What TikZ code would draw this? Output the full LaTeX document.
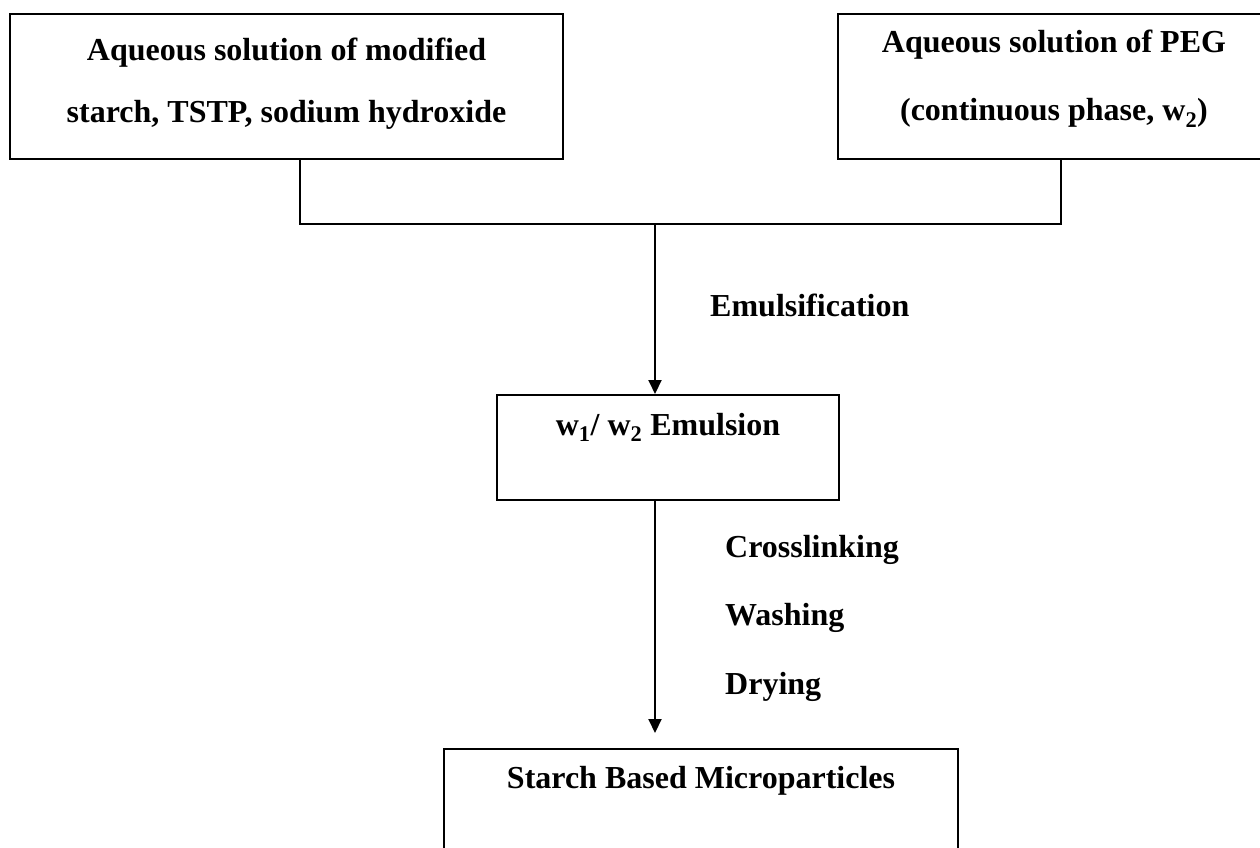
\documentclass[tikz,border=0pt]{standalone}
\usepackage{fontspec}
\setmainfont{Liberation Serif}
\usetikzlibrary{arrows.meta}

\tikzset{
  box/.style={draw, line width=2pt, inner sep=0pt, rectangle},
  lbl/.style={font=\bfseries\fontsize{32}{38}\selectfont, inner sep=0pt},
  arr/.style={line width=2pt, -{Triangle[length=14pt, width=13pt]}}
}

\begin{document}
\begin{tikzpicture}[x=1pt, y=-1pt]

\clip (0,0) rectangle (1260,848);

% the boxes
\node[box, minimum width=553, minimum height=145] (src1) at (286.5,86.5) {};
\node[box, minimum width=432, minimum height=145] (src2) at (1054,86.5) {};
\node[box, minimum width=342, minimum height=105] (emul) at (668,447.5) {};
\node[box, minimum width=514, minimum height=121] (prod) at (701,809.5) {};

% their texts
\node[lbl, anchor=base] (src1a) at (286.5,61)  {Aqueous solution of modified};
\node[lbl, anchor=base] (src1b) at (286.5,122) {starch, TSTP, sodium hydroxide};
\node[lbl, anchor=base] (src2a) at (1054,53)   {Aqueous solution of PEG};
\node[lbl, anchor=base] (src2b) at (1054,121)  {(continuous phase, w\textsubscript{2})};
\node[lbl, anchor=base] (emula) at (668,435)   {w\textsubscript{1}/ w\textsubscript{2} Emulsion};
\node[lbl, anchor=base] (proda) at (701,788)   {Starch Based Microparticles};

% steps
\node[lbl, anchor=base west] (emstep)   at (710,316) {Emulsification};
\node[lbl, anchor=base west] (crosslk)  at (725,557) {Crosslinking};
\node[lbl, anchor=base west] (washing)  at (725,625) {Washing};
\node[lbl, anchor=base west] (drying)   at (725,694) {Drying};

% connectors
\coordinate (jl)   at (300,224);
\coordinate (jr)   at (1061,224);
\coordinate (join) at (655,224);
\coordinate (tip)  at (655,733);

\draw[line width=2pt] (src1.south -| jl) -- (jl) -- (jr) -- (src2.south -| jr);
\draw[arr] (join) -- (join |- emul.north);
\draw[arr] (emul.south -| join) -- (tip);

\end{tikzpicture}
\end{document}
